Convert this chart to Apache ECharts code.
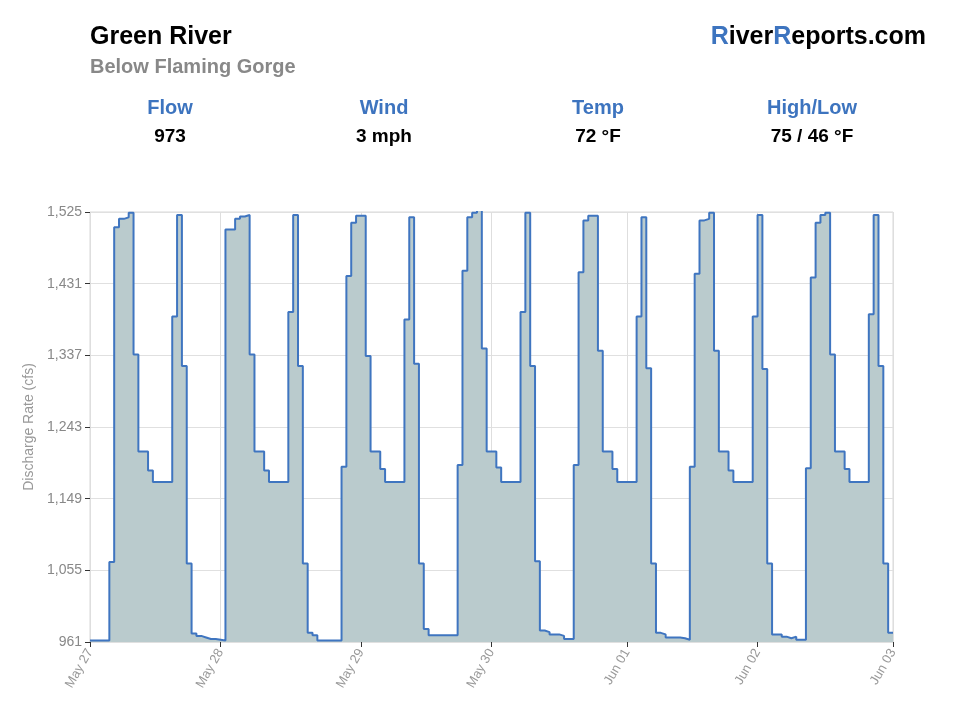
<!DOCTYPE html>
<html>
<head>
<meta charset="utf-8">
<title>Green River - Below Flaming Gorge</title>
<script src="https://cdn.jsdelivr.net/npm/echarts@6/dist/echarts.min.js"></script>
<style>
    html, body { margin: 0; padding: 0; background: #fff; }
    #flow_chart { width: 960px; height: 720px; }
</style>
</head>
<body>
<div id="flow_chart"></div>
<script>
(function(){
    'use strict';

    // hourly discharge, one line per daily release cycle
    var flow = [
        963, 963, 963, 963,
        1066, 1505, 1516, 1518, 1524, 1338, 1211, 1211, 1186, 1171, 1171, 1171, 1171, 1388, 1521, 1323, 1064, 972, 969, 967, 965, 965, 964, 963,
        1502, 1502, 1516, 1519, 1521, 1338, 1211, 1211, 1186, 1171, 1171, 1171, 1171, 1394, 1521, 1323, 1064, 973, 970, 963, 963, 963, 963, 963,
        1191, 1441, 1511, 1520, 1520, 1336, 1211, 1211, 1188, 1171, 1171, 1171, 1171, 1384, 1518, 1326, 1064, 978, 970, 970, 970, 970, 970, 970,
        1193, 1448, 1518, 1524, 1528, 1346, 1211, 1211, 1190, 1171, 1171, 1171, 1171, 1394, 1524, 1323, 1067, 976, 974, 971, 971, 969, 965, 965,
        1193, 1446, 1514, 1520, 1520, 1343, 1211, 1211, 1188, 1171, 1171, 1171, 1171, 1388, 1518, 1320, 1064, 973, 971, 967, 967, 967, 966, 964,
        1191, 1444, 1514, 1516, 1524, 1343, 1211, 1211, 1186, 1171, 1171, 1171, 1171, 1388, 1521, 1319, 1064, 971, 971, 968, 966, 968, 964, 964,
        1189, 1439, 1511, 1521, 1524, 1338, 1211, 1211, 1188, 1171, 1171, 1171, 1171, 1391, 1521, 1323, 1064, 973, 973
    ];
    var tickIndex = [0, 27, 56, 83, 111, 138, 166];
    var tickLabels = ['May 27', 'May 28', 'May 29', 'May 30', 'Jun 01', 'Jun 02', 'Jun 03'];
    var yTicks = [961, 1055, 1149, 1243, 1337, 1431, 1525];

    var statNames = ['Flow', 'Wind', 'Temp', 'High/Low'];
    var statValues = ['973', '3 mph', '72 °F', '75 / 46 °F'];

    var categories = flow.map(function(v, i){ return i; });
    var FONT = '"Liberation Sans", Arial, sans-serif';
    var BLUE = '#3d74bf';

    function isTick(index){
        return tickIndex.indexOf(index) >= 0;
    }

    var header = [
        {type: 'text', x: 90, y: 37, style: {text: 'Green River', font: 'bold 25px ' + FONT, fill: '#000', verticalAlign: 'middle'}},
        {type: 'text', x: 90, y: 67, style: {text: 'Below Flaming Gorge', font: 'bold 20px ' + FONT, fill: '#888', verticalAlign: 'middle'}},
        {type: 'text', x: 926, y: 37, style: {
            text: '{b|R}iver{b|R}eports.com', font: 'bold 25px ' + FONT, fill: '#000',
            align: 'right', verticalAlign: 'middle',
            rich: {b: {font: 'bold 25px ' + FONT, fill: BLUE}}
        }}
    ];
    var statX = [170, 384, 598, 812];
    statNames.forEach(function(name, i){
        header.push({type: 'text', x: statX[i], y: 108, style: {text: name, font: 'bold 20px ' + FONT, fill: BLUE, align: 'center', verticalAlign: 'middle'}});
        header.push({type: 'text', x: statX[i], y: 137, style: {text: statValues[i], font: 'bold 19px ' + FONT, fill: '#000', align: 'center', verticalAlign: 'middle'}});
    });

    var myChart = echarts.init(document.getElementById('flow_chart'));
    var option = {
        animation: false,
        textStyle: {fontFamily: FONT},
        graphic: header,
        grid: {
            left: 90, right: 67, top: 212, bottom: 78,
            show: true, borderColor: '#d9d9d9', borderWidth: 1
        },
        xAxis: {
            type: 'category',
            data: categories,
            boundaryGap: false,
            axisLine: {show: false},
            axisTick: {show: true, interval: isTick, length: 5, lineStyle: {color: '#333'}},
            axisLabel: {
                interval: isTick,
                rotate: 60,
                color: '#999',
                fontSize: 13,
                margin: 8,
                formatter: function(value, index){
                    var k = tickIndex.indexOf(index);
                    return k >= 0 ? tickLabels[k] : '';
                }
            },
            splitLine: {show: true, interval: isTick, lineStyle: {color: '#dedede'}}
        },
        yAxis: {
            type: 'value',
            min: 961,
            max: 1525,
            name: 'Discharge Rate (cfs)',
            nameLocation: 'middle',
            nameGap: 52,
            nameTextStyle: {color: '#999', fontSize: 14},
            axisLine: {show: false},
            axisTick: {show: true, customValues: yTicks, length: 5, lineStyle: {color: '#333'}},
            axisLabel: {
                customValues: yTicks,
                color: '#888',
                fontSize: 14,
                margin: 8,
                formatter: function(v){ return v.toLocaleString('en-US'); }
            },
            splitLine: {show: true, lineStyle: {color: '#e0e0e0'}}
        },
        series: [
            {
                name: 'Flow',
                type: 'line',
                step: 'end',
                data: flow,
                showSymbol: false,
                clip: true,
                lineStyle: {color: '#3f75c0', width: 2},
                areaStyle: {color: '#bacbcd', opacity: 1, origin: 'start'}
            }
        ]
    };
    myChart.setOption(option);
})();
</script>
</body>
</html>
